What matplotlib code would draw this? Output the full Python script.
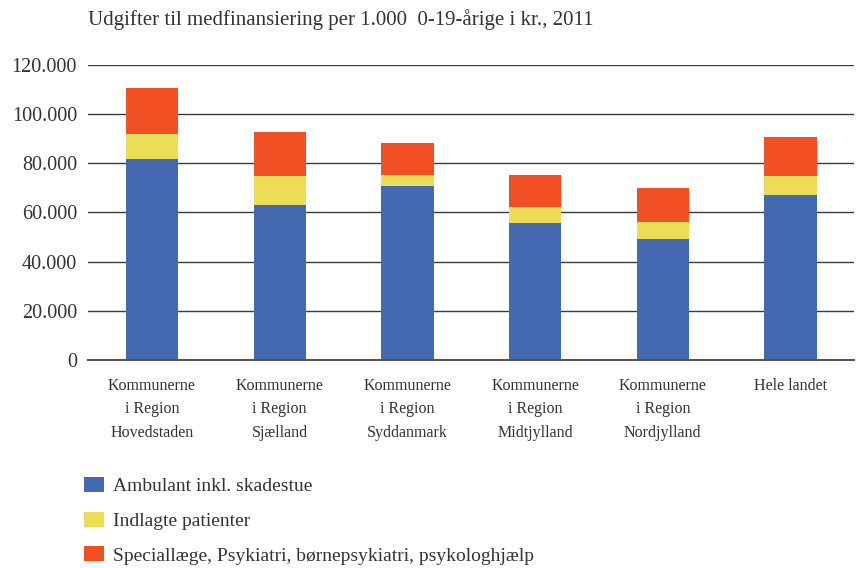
import matplotlib.pyplot as plt
import numpy as np
from matplotlib.ticker import FuncFormatter

# data (kr. per 1.000 0-19-årige)
categories = ["Kommunerne\ni Region\nHovedstaden", "Kommunerne\ni Region\nSjælland",
              "Kommunerne\ni Region\nSyddanmark", "Kommunerne\ni Region\nMidtjylland",
              "Kommunerne\ni Region\nNordjylland", "Hele landet"]
ambulant = [81700, 63000, 70700, 55700, 49200, 67000]
indlagte = [10100, 11800, 4500, 6500, 6900, 7800]
speciallaege = [18700, 17800, 13000, 13000, 13800, 15800]
series_names = ["Ambulant inkl. skadestue", "Indlagte patienter",
                "Speciallæge, Psykiatri, børnepsykiatri, psykologhjælp"]
colors = ["#4469b1", "#ebdd55", "#f05023"]

plt.rcParams['font.family'] = ['Liberation Serif', 'DejaVu Serif']

fig = plt.figure(figsize=(8.56, 5.68), dpi=100)
ax = fig.add_axes([0.103, 0.366, 0.895, 0.520])

x = np.arange(len(categories))
width = 0.41
bottom = np.zeros(len(categories))
for vals, name, col in zip([ambulant, indlagte, speciallaege], series_names, colors):
    ax.bar(x, vals, width, bottom=bottom, color=col, label=name, zorder=3)
    bottom += np.array(vals)

ax.set_ylim(0, 120000)
ax.set_xlim(-0.5, 5.5)
ax.set_yticks(np.arange(0, 120001, 20000))
ax.yaxis.set_major_formatter(FuncFormatter(lambda v, p: f"{int(v):,}".replace(",", ".")))
ax.grid(axis='y', color='#3a3a3a', linewidth=1.0, zorder=0)
ax.axhline(0, color='#555555', linewidth=1.5, zorder=4, clip_on=False)
for s in ax.spines.values():
    s.set_visible(False)
ax.tick_params(axis='y', length=0, pad=8, labelsize=14.5, labelcolor='#333333')
ax.set_xticks(x)
ax.set_xticklabels(categories, fontsize=11.5, linespacing=1.6, color='#333333')
ax.tick_params(axis='x', length=0, pad=13)

fig.text(0.103, 0.966, "Udgifter til medfinansiering per 1.000  0-19-årige i kr., 2011",
         fontsize=15, color='#333333', va='center')

fig.legend(loc='upper left', bbox_to_anchor=(0.078, 0.191), frameon=False,
           fontsize=14, handlelength=1.0, handleheight=0.8, labelspacing=0.85,
           handletextpad=0.5, labelcolor='#333333')

fig.savefig("out.png", dpi=100)
